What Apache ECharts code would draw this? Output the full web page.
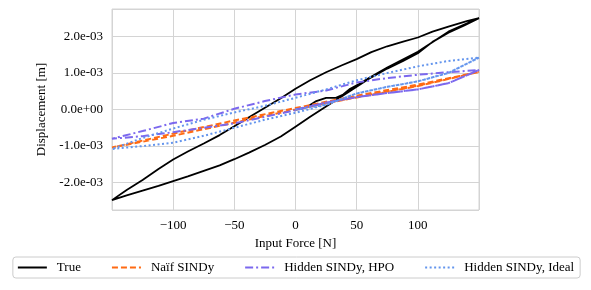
<!DOCTYPE html>
<html>
<head>
<meta charset="utf-8">
<script src="https://cdn.jsdelivr.net/npm/echarts@6/dist/echarts.min.js"></script>
<style>html,body{margin:0;padding:0;background:#fff}#c{width:591px;height:290px}</style>
</head>
<body>
<div id="c"></div>
<script>
// ---- Data (force in N, displacement in units of 1e-3 m, converted below) ----
var seriesNames = ['True', 'Naïf SINDy', 'Hidden SINDy, HPO', 'Hidden SINDy, Ideal'];

// True: virgin loading, descending (upper) branch, ascending (lower) branch
var trueVirginX = [0, 5, 10, 17, 25, 33, 39, 44, 52, 60, 75, 100, 125, 150];
var trueVirginY = [0, 0.02, 0.08, 0.23, 0.32, 0.32, 0.41, 0.55, 0.70, 0.86, 1.15, 1.58, 2.13, 2.50];
var trueUpperX = [150, 140, 125, 112, 100, 88, 75, 62, 50, 38, 25, 12, 0, -12, -25, -38, -50, -62, -75, -88, -100, -112, -125, -138, -150];
var trueUpperY = [2.50, 2.42, 2.27, 2.13, 1.97, 1.86, 1.73, 1.57, 1.38, 1.21, 1.02, 0.80, 0.57, 0.31, 0.05, -0.21, -0.46, -0.70, -0.93, -1.15, -1.37, -1.63, -1.93, -2.20, -2.48];
var trueLowerX = [-150, -138, -125, -112, -100, -88, -75, -62, -50, -38, -25, -12, 0, 12, 25, 38, 50, 62, 75, 88, 100, 112, 125, 138, 150];
var trueLowerY = [-2.48, -2.35, -2.22, -2.09, -1.96, -1.83, -1.68, -1.53, -1.36, -1.18, -0.97, -0.74, -0.47, -0.20, 0.08, 0.36, 0.62, 0.88, 1.12, 1.33, 1.54, 1.85, 2.10, 2.30, 2.50];

// Naif SINDy
var naifX = [0, 50, 100, 150, 100, 50, 0, -50, -100, -150, -100, -50, 0, 50, 100, 150];
var naifY = [0, 0.34, 0.65, 1.03, 0.68, 0.38, 0.04, -0.30, -0.66, -1.04, -0.72, -0.36, 0.0, 0.33, 0.64, 1.03];

// Hidden SINDy, HPO
var hpoX = [0, 25, 50, 75, 100, 125, 150, 125, 100, 75, 50, 25, 0, -25, -50, -75, -100, -125, -150, -125, -100, -75, -50, -25, 0, 25, 50, 75, 100, 125, 150];
var hpoY = [0, 0.19, 0.34, 0.45, 0.55, 0.72, 1.08, 1.02, 0.95, 0.86, 0.74, 0.52, 0.41, 0.23, 0.02, -0.25, -0.37, -0.59, -0.80, -0.73, -0.62, -0.50, -0.38, -0.20, -0.02, 0.19, 0.34, 0.45, 0.55, 0.72, 1.08];

// Hidden SINDy, Ideal
var idealX = [0, 25, 50, 75, 100, 125, 150, 125, 100, 75, 50, 25, 0, -25, -50, -75, -100, -125, -150, -125, -100, -75, -50, -25, 0, 25, 50, 75, 100, 125, 150];
var idealY = [0, 0.13, 0.44, 0.62, 0.77, 1.00, 1.42, 1.33, 1.18, 1.00, 0.80, 0.55, 0.32, 0.10, -0.08, -0.28, -0.52, -0.78, -1.08, -1.00, -0.91, -0.72, -0.50, -0.28, -0.09, 0.13, 0.44, 0.62, 0.77, 1.00, 1.42];

var xTicks = [-100, -50, 0, 50, 100];
var yTicks = [-2e-3, -1e-3, 0, 1e-3, 2e-3];

function pairs(xs, ys) {
  var out = [];
  for (var i = 0; i < xs.length; i++) out.push([xs[i], ys[i] * 1e-3]);
  return out;
}
var trueData = pairs(trueVirginX, trueVirginY)
  .concat(pairs(trueUpperX, trueUpperY))
  .concat(pairs(trueLowerX, trueLowerY));

function fmtY(v) {
  if (Math.abs(v) < 1e-12) return '0.0e+00';
  var s = v.toExponential(1);
  return s.replace(/e([+-])(\d+)$/, function (m, sg, d) { return 'e' + sg + (d.length < 2 ? '0' + d : d); });
}
var FONT = 'Liberation Serif';
var chart = echarts.init(document.getElementById('c'), null, {renderer: 'canvas'});
chart.setOption({
  animation: false,
  backgroundColor: '#fff',
  textStyle: {fontFamily: FONT, color: '#000'},
  grid: {left: 112, right: 112, top: 9, bottom: 80, show: true, borderColor: '#d4d4d4', borderWidth: 1},
  xAxis: {
    type: 'value', min: -150, max: 150, interval: 50,
    name: 'Input Force [N]', nameLocation: 'middle', nameGap: 26,
    nameTextStyle: {fontFamily: FONT, fontSize: 13, color: '#000'},
    axisLine: {show: false}, axisTick: {show: false},
    axisLabel: {fontFamily: FONT, fontSize: 13, color: '#000', margin: 9, showMinLabel: false, showMaxLabel: false,
      formatter: function (v) { return String(v).replace('-', '\u2212'); }},
    splitLine: {show: true, lineStyle: {color: '#d4d4d4', width: 1}}
  },
  yAxis: {
    type: 'value', min: -0.00275, max: 0.00275, splitNumber: 5,
    name: 'Displacement [m]', nameLocation: 'middle', nameGap: 57,
    nameTextStyle: {fontFamily: FONT, fontSize: 13, color: '#000'},
    axisLine: {show: false}, axisTick: {show: false},
    axisLabel: {fontFamily: FONT, fontSize: 13, color: '#000', margin: 9, showMinLabel: false, showMaxLabel: false,
      formatter: fmtY},
    splitLine: {show: true, lineStyle: {color: '#d4d4d4', width: 1}}
  },
  legend: {
    top: 257, left: 'center',
    itemWidth: 29, itemHeight: 14, itemGap: 30,
    padding: [4, 6, 4, 4],
    borderColor: '#cccccc', borderWidth: 1, borderRadius: 3,
    itemStyle: {opacity: 0},
    textStyle: {fontFamily: FONT, fontSize: 13, color: '#000', padding: [0, 0, 0, 5]},
    data: seriesNames
  },
  series: [
    {name: seriesNames[0], type: 'line', symbol: 'none', data: trueData,
     lineStyle: {color: '#000', width: 1.8}, itemStyle: {color: '#000'}},
    {name: seriesNames[1], type: 'line', symbol: 'none', data: pairs(naifX, naifY),
     lineStyle: {color: '#ff6a13', width: 2, type: [6, 3]}, itemStyle: {color: '#ff6a13'}},
    {name: seriesNames[2], type: 'line', symbol: 'none', data: pairs(hpoX, hpoY),
     lineStyle: {color: '#7b68ee', width: 2, type: [8, 3, 2, 3]}, itemStyle: {color: '#7b68ee'}},
    {name: seriesNames[3], type: 'line', symbol: 'none', data: pairs(idealX, idealY),
     lineStyle: {color: '#6495ed', width: 2, type: [2, 2.5]}, itemStyle: {color: '#6495ed'}}
  ]
});
</script>
</body>
</html>
